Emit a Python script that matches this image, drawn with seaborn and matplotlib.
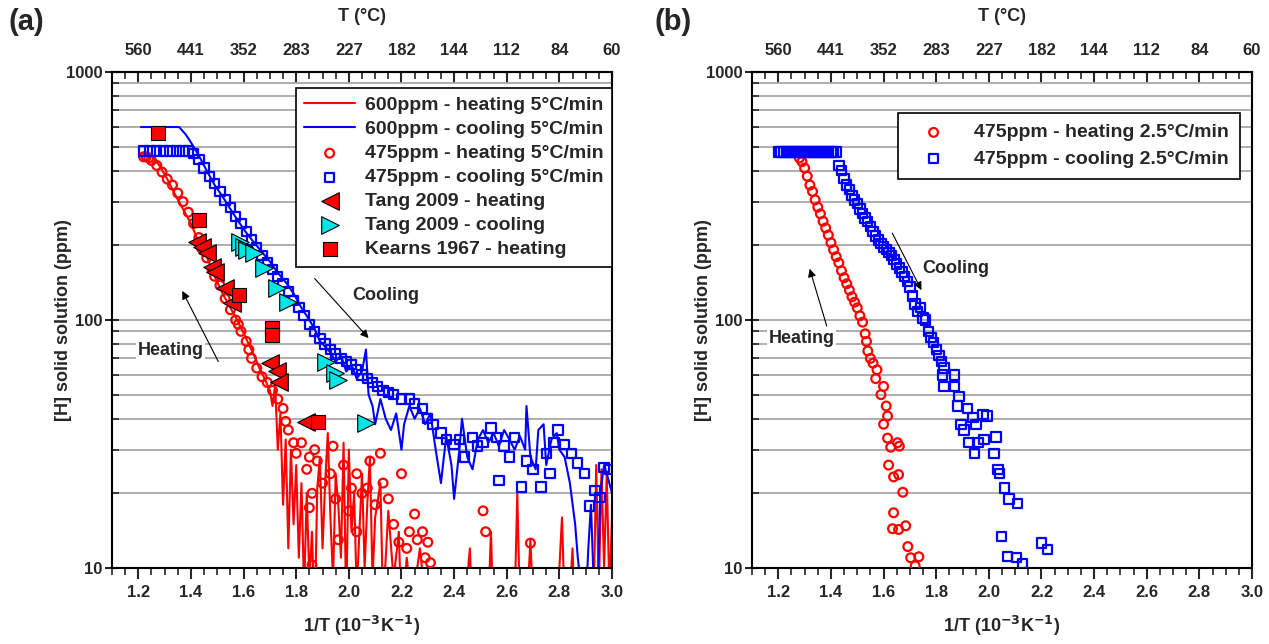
import numpy as np
import matplotlib
matplotlib.use("Agg")
import matplotlib.pyplot as plt
import matplotlib.ticker as mticker
import seaborn as sns

# ---------------- panel (a) data ----------------
# 600ppm - heating 5C/min (red line)
a_hline_x = [1.22, 1.25, 1.28, 1.31, 1.34, 1.37, 1.40, 1.43, 1.46, 1.49, 1.52, 1.55, 1.58, 1.61,
             1.64, 1.66, 1.68, 1.70, 1.71, 1.72, 1.73, 1.74, 1.75, 1.76, 1.77, 1.78, 1.79, 1.80,
             1.81, 1.82, 1.83, 1.84, 1.85, 1.86, 1.87, 1.88, 1.89, 1.90, 1.91, 1.92, 1.93, 1.94,
             1.95, 1.96, 1.97, 1.98, 1.99, 2.00, 2.01, 2.02, 2.03, 2.05, 2.06, 2.07, 2.08, 2.09,
             2.10, 2.12, 2.13, 2.15, 2.17, 2.19, 2.20, 2.22, 2.24, 2.27, 2.30, 2.35, 2.40, 2.44,
             2.46, 2.47, 2.53, 2.54, 2.55, 2.63, 2.64, 2.65, 2.68, 2.69, 2.70, 2.78, 2.80, 2.81,
             2.82, 2.84, 2.85, 2.86, 2.93, 2.94, 2.95, 2.96, 2.97, 2.98, 2.99, 3.00]
a_hline_y = [470, 460, 420, 370, 320, 280, 245, 205, 180, 150, 128, 112, 98, 84,
             72, 64, 58, 52, 45, 55, 30, 42, 18, 33, 12, 30, 15, 26,
             11, 22, 8, 20, 9, 14, 6, 21, 28, 12, 22, 35, 16, 9,
             24, 18, 11, 32, 7, 30, 14, 20, 8, 24, 10, 18, 28, 9,
             16, 22, 7, 17, 9, 14, 6, 11, 7, 12, 6, 8, 6, 7,
             12, 6, 7, 14, 6, 7, 20, 7, 8, 13, 7, 6, 10, 16,
             7, 8, 12, 6, 7, 26, 8, 25, 10, 24, 8, 16]

# 600ppm - cooling 5C/min (blue line)
a_cline_x = [1.21, 1.25, 1.30, 1.355, 1.38, 1.40, 1.43, 1.46, 1.49, 1.52, 1.55, 1.58, 1.61, 1.64,
             1.67, 1.70, 1.73, 1.76, 1.79, 1.82, 1.85, 1.87, 1.89, 1.91, 1.93, 1.95, 1.97, 1.99,
             2.01, 2.03, 2.05, 2.065, 2.075, 2.09, 2.10, 2.12, 2.14, 2.16, 2.18, 2.20, 2.21, 2.23,
             2.25, 2.27, 2.29, 2.31, 2.33, 2.35, 2.37, 2.39, 2.40, 2.42, 2.43, 2.45, 2.47, 2.49,
             2.51, 2.53, 2.55, 2.57, 2.59, 2.61, 2.63, 2.65, 2.67, 2.675, 2.69, 2.71, 2.72, 2.74,
             2.75, 2.77, 2.79, 2.80, 2.82, 2.84, 2.86, 2.87, 2.885, 2.90, 2.91, 2.92, 2.93, 2.945,
             2.955, 2.97, 2.985, 3.00]
a_cline_y = [600, 600, 600, 600, 560, 520, 460, 400, 350, 315, 280, 250, 225, 205,
             188, 172, 155, 142, 128, 112, 100, 92, 82, 78, 74, 68, 72, 62,
             66, 58, 62, 76, 50, 45, 38, 48, 40, 36, 42, 30, 38, 45,
             40, 44, 38, 42, 30, 22, 34, 26, 19, 30, 40, 28, 25, 33,
             36, 32, 35, 31, 36, 33, 30, 34, 30, 45, 28, 25, 36, 38,
             26, 33, 35, 30, 28, 22, 15, 11, 8, 7, 12, 18, 9, 7,
             20, 26, 23, 20]

# 475ppm - heating 5C/min (red circles)
a_hcirc_x = [1.22, 1.23, 1.24, 1.25, 1.27, 1.29, 1.31, 1.33, 1.35, 1.37, 1.39, 1.41, 1.43, 1.44,
             1.46, 1.48, 1.49, 1.51, 1.53, 1.55, 1.57, 1.58, 1.59, 1.61, 1.62, 1.63, 1.65, 1.67,
             1.69, 1.71, 1.73, 1.75, 1.76, 1.77, 1.79, 1.80, 1.82, 1.84, 1.85, 1.86, 1.87, 1.88,
             1.85, 1.90, 1.94, 1.93, 1.95, 1.96, 1.98, 2.00, 2.01, 2.03, 2.03, 2.05, 2.07, 2.08,
             2.10, 2.12, 2.13, 2.15, 2.17, 2.19, 2.20, 2.22, 2.23, 2.25, 2.26, 2.28, 2.29, 2.30,
             2.31, 2.51, 2.52, 2.69, 1.86]
a_hcirc_y = [455, 455, 450, 440, 420, 395, 370, 350, 325, 300, 272, 245, 215, 195,
             178, 160, 150, 138, 122, 110, 100, 96, 90, 82, 76, 70, 64, 59,
             56, 52, 48, 44, 39, 36, 32, 29, 32, 25, 28, 20, 30, 27,
             17.5, 22, 31, 24, 19, 13, 26, 17, 21, 24, 14, 20, 21, 27,
             18, 29, 22, 19, 15, 12.7, 24, 12, 14, 16.5, 13, 14, 11, 12.7,
             10.5, 17, 14, 12.6, 10.3]

# 475ppm - cooling 5C/min (blue squares)
a_csq_x = [1.22, 1.245, 1.27, 1.295, 1.32, 1.345, 1.37, 1.39, 1.41, 1.43, 1.45, 1.47, 1.49, 1.51,
           1.53, 1.55, 1.57, 1.59, 1.61, 1.63, 1.65, 1.67, 1.69, 1.71, 1.73, 1.75, 1.77, 1.79,
           1.81, 1.83, 1.85, 1.87, 1.89, 1.91, 1.93, 1.95, 1.97, 1.99, 2.01, 2.03, 2.05, 2.07,
           2.09, 2.11, 2.13, 2.15, 2.17, 2.20, 2.23, 2.25, 2.28, 2.30, 2.32, 2.35, 2.37, 2.40,
           2.42, 2.44, 2.47, 2.49, 2.51, 2.54, 2.56, 2.57, 2.59, 2.61, 2.63, 2.655, 2.675, 2.70,
           2.73, 2.75, 2.765, 2.78, 2.795, 2.82, 2.845, 2.87, 2.895, 2.915, 2.935, 2.955, 2.97, 2.99]
a_csq_y = [480, 480, 480, 480, 480, 480, 480, 480, 470, 445, 410, 380, 355, 330,
           305, 285, 262, 245, 228, 210, 196, 182, 170, 160, 150, 140, 130, 120,
           112, 104, 96, 90, 84, 80, 76, 73, 70, 68, 66, 63, 60, 58,
           56, 54, 52, 51, 50, 48, 48, 46, 44, 40, 38, 35, 33, 31.5,
           33, 28, 33.5, 31, 32, 36.7, 33.5, 22.6, 31, 28, 33.5, 21.2, 27, 25,
           21.2, 29, 24, 32, 36, 31.5, 29, 26.5, 24, 17.8, 20.5, 19.3, 25.5, 25]

# literature points
tang_h_x = [1.422, 1.441, 1.46, 1.479, 1.491, 1.529, 1.556, 1.701, 1.728, 1.736, 1.836]
tang_h_y = [207, 197, 186, 164, 156, 135, 117, 67, 62, 56, 38.8]
tang_c_x = [1.587, 1.602, 1.613, 1.64, 1.679, 1.728, 1.767, 1.912, 1.947, 1.958, 2.066]
tang_c_y = [207, 197, 191, 186, 162, 135, 118, 68, 61, 57.5, 38.5]
kearns_x = [1.276, 1.43, 1.583, 1.709, 1.709, 1.882]
kearns_y = [568, 253, 126, 93, 87, 38.8]

# ---------------- panel (b) data ----------------
b_hcirc_x = [1.28, 1.29, 1.30, 1.31, 1.32, 1.33, 1.34, 1.35, 1.36, 1.37, 1.38, 1.39, 1.40, 1.41,
             1.42, 1.43, 1.44, 1.45, 1.46, 1.47, 1.48, 1.49, 1.50, 1.51, 1.52, 1.53, 1.535, 1.54,
             1.55, 1.56, 1.575, 1.57, 1.60, 1.59, 1.61, 1.615, 1.60, 1.615, 1.627, 1.653, 1.66,
             1.619, 1.638, 1.657, 1.673, 1.638, 1.634, 1.657, 1.684, 1.692, 1.703, 1.734, 1.72]
b_hcirc_y = [450, 435, 410, 380, 350, 330, 305, 285, 268, 250, 235, 220, 205, 192,
             180, 170, 158, 148, 140, 132, 124, 118, 112, 104, 98, 88, 82, 75,
             70, 67, 63, 58, 54, 50, 45, 41, 38, 33.4, 30.7, 32, 31,
             26, 23.3, 23.8, 20.2, 16.7, 14.4, 14.3, 14.8, 12.2, 11, 11.1, 10.2]

b_csq_x = [1.20, 1.21, 1.22, 1.23, 1.24, 1.25, 1.26, 1.27, 1.28, 1.29, 1.30, 1.31, 1.32, 1.33,
           1.34, 1.35, 1.36, 1.37, 1.38, 1.39, 1.40, 1.41, 1.42,
           1.43, 1.44, 1.45, 1.46, 1.47, 1.48, 1.49, 1.50, 1.51, 1.52, 1.53, 1.54, 1.55, 1.56,
           1.57, 1.58, 1.59, 1.60, 1.61, 1.62, 1.63, 1.64, 1.65, 1.66, 1.67, 1.68, 1.69, 1.70,
           1.71, 1.72, 1.73, 1.74, 1.75, 1.76, 1.77, 1.78, 1.79, 1.80, 1.81, 1.82, 1.83, 1.825,
           1.83, 1.87, 1.87, 1.886, 1.882, 1.92, 1.94, 1.978, 1.894, 1.905, 1.951, 1.925, 1.959,
           1.982, 1.945, 1.993, 2.027, 2.02, 2.035, 2.04, 2.06, 2.077, 2.11, 2.047, 2.07, 2.104,
           2.127, 2.20, 2.222]
b_csq_y = [476, 476, 476, 476, 476, 476, 476, 476, 476, 476, 476, 476, 476, 476,
           476, 476, 476, 476, 476, 476, 476, 476, 476,
           420, 400, 372, 350, 335, 318, 305, 295, 280, 268, 258, 250, 238, 228,
           218, 210, 203, 197, 192, 187, 182, 175, 168, 162, 156, 150, 143, 136,
           125, 116, 108, 112, 102, 100, 90, 85, 81, 76, 72, 68, 64, 60,
           54, 60, 54, 49, 45, 44, 40.5, 41.5, 38, 36, 38, 32, 32,
           33, 29, 41, 33.7, 29, 25, 24, 21, 19, 18.2, 13.4, 11.1, 11,
           10.4, 12.6, 11.9]

temps_c = [560, 441, 352, 283, 227, 182, 144, 112, 84, 60]

RED = "#ff0000"
BLUE = "#0000ff"
CYAN = "#00e5e5"

sns.set_style("ticks")
plt.rcParams["font.family"] = ["Liberation Sans", "DejaVu Sans"]
plt.rcParams["font.weight"] = "bold"
plt.rcParams["axes.labelweight"] = "bold"
plt.rcParams["mathtext.default"] = "bf"

fig = plt.figure(figsize=(12.69, 6.44), dpi=100)
ax_a = fig.add_axes([112 / 1269, 76 / 644, 500 / 1269, 496 / 644])
ax_b = fig.add_axes([752 / 1269, 76 / 644, 500 / 1269, 496 / 644])


def style_axis(ax):
    ax.set_yscale("log")
    ax.set_xlim(1.1, 3.0)
    ax.set_ylim(10, 1000)
    ax.xaxis.set_major_locator(mticker.FixedLocator(np.arange(1.2, 3.01, 0.2)))
    ax.xaxis.set_major_formatter(mticker.FormatStrFormatter("%.1f"))
    ax.xaxis.set_minor_locator(mticker.MultipleLocator(0.05))
    ax.yaxis.set_major_locator(mticker.FixedLocator([10, 100, 1000]))
    ax.yaxis.set_major_formatter(mticker.FixedFormatter(["10", "100", "1000"]))
    ax.yaxis.set_minor_locator(mticker.LogLocator(base=10, subs=np.arange(2, 10)))
    ax.yaxis.set_minor_formatter(mticker.NullFormatter())
    ax.grid(True, which="both", axis="y", color="#a8a8a8", lw=1.3)
    ax.set_axisbelow(True)
    for s in ax.spines.values():
        s.set_linewidth(1.5)
        s.set_color("black")
    ax.tick_params(axis="x", which="major", direction="out", length=8, width=1.5, labelsize=12, pad=4)
    ax.tick_params(axis="x", which="minor", direction="out", length=5, width=1.2)
    ax.tick_params(axis="y", which="major", direction="inout", length=10, width=1.5, labelsize=12, pad=2)
    ax.tick_params(axis="y", which="minor", direction="in", length=5, width=1.2)
    ax.set_xlabel(r"1/T (10$^{-3}$K$^{-1}$)", fontsize=13, labelpad=10)
    ax.set_ylabel("[H] solid solution (ppm)", fontsize=13)
    ax.yaxis.set_label_coords(-0.08, 0.5)

    top = ax.secondary_xaxis("top")
    top.set_xticks([round(1000.0 / (t + 273.15), 1) for t in temps_c])
    top.set_xticklabels([str(t) for t in temps_c])
    top.xaxis.set_minor_locator(mticker.MultipleLocator(0.05))
    top.tick_params(axis="x", which="major", direction="in", length=8, width=1.5, labelsize=12, pad=10)
    top.tick_params(axis="x", which="minor", direction="in", length=5, width=1.2)
    top.spines["top"].set_linewidth(1.5)
    top.set_xlabel("T (°C)", fontsize=13, labelpad=16)


style_axis(ax_a)
style_axis(ax_b)

# panel (a)
sns.lineplot(x=a_hline_x, y=a_hline_y, sort=False, estimator=None, color=RED, lw=1.5,
             ax=ax_a, label="600ppm - heating 5°C/min")
sns.lineplot(x=a_cline_x, y=a_cline_y, sort=False, estimator=None, color=BLUE, lw=1.5,
             ax=ax_a, label="600ppm - cooling 5°C/min")
sns.scatterplot(x=a_hcirc_x, y=a_hcirc_y, marker="o", s=40, facecolor="none", edgecolor=RED,
                linewidth=1.6, ax=ax_a, label="475ppm - heating 5°C/min", zorder=3)
sns.scatterplot(x=a_csq_x, y=a_csq_y, marker="s", s=45, facecolor="none", edgecolor=BLUE,
                linewidth=1.6, ax=ax_a, label="475ppm - cooling 5°C/min", zorder=3)
sns.scatterplot(x=tang_h_x, y=tang_h_y, marker="<", s=160, color=RED, edgecolor="black",
                linewidth=0.8, ax=ax_a, label="Tang 2009 - heating", zorder=4)
sns.scatterplot(x=tang_c_x, y=tang_c_y, marker=">", s=160, color=CYAN, edgecolor="black",
                linewidth=0.8, ax=ax_a, label="Tang 2009 - cooling", zorder=4)
sns.scatterplot(x=kearns_x, y=kearns_y, marker="s", s=110, color=RED, edgecolor="black",
                linewidth=0.8, ax=ax_a, label="Kearns 1967 - heating", zorder=4)

leg_a = ax_a.legend(loc="upper right", bbox_to_anchor=(1.0, 0.968), borderaxespad=0,
                    fontsize=14, frameon=True, fancybox=False, framealpha=1,
                    edgecolor="black", handlelength=2.6, labelspacing=0.33,
                    borderpad=0.45, handletextpad=0.5)
leg_a.get_frame().set_linewidth(1.2)

arrow_kw = dict(arrowstyle="-|>", color="black", lw=0.8, mutation_scale=12, shrinkA=0, shrinkB=0)
ax_a.annotate("", xy=(1.367, 131), xytext=(1.504, 68), arrowprops=arrow_kw)
ax_a.text(1.322, 75, "Heating", fontsize=13, ha="center", va="center",
          bbox=dict(facecolor="white", edgecolor="none", pad=1))
ax_a.annotate("", xy=(2.075, 84.5), xytext=(1.87, 147), arrowprops=arrow_kw)
ax_a.text(2.14, 125, "Cooling", fontsize=13, ha="center", va="center",
          bbox=dict(facecolor="white", edgecolor="none", pad=1))

# panel (b)
sns.scatterplot(x=b_hcirc_x, y=b_hcirc_y, marker="o", s=40, facecolor="none", edgecolor=RED,
                linewidth=1.6, ax=ax_b, label="475ppm - heating 2.5°C/min", zorder=3)
sns.scatterplot(x=b_csq_x, y=b_csq_y, marker="s", s=45, facecolor="none", edgecolor=BLUE,
                linewidth=1.6, ax=ax_b, label="475ppm - cooling 2.5°C/min", zorder=3)
leg_b = ax_b.legend(loc="upper right", bbox_to_anchor=(0.976, 0.917), borderaxespad=0,
                    fontsize=14, frameon=True, fancybox=False, framealpha=1,
                    edgecolor="black", handlelength=2.6, labelspacing=0.45,
                    borderpad=0.55, handletextpad=0.8)
leg_b.get_frame().set_linewidth(1.2)

ax_b.annotate("", xy=(1.319, 161), xytext=(1.384, 94.6), arrowprops=arrow_kw)
ax_b.text(1.288, 84.5, "Heating", fontsize=13, ha="center", va="center",
          bbox=dict(facecolor="white", edgecolor="none", pad=1))
ax_b.annotate("", xy=(1.744, 132), xytext=(1.633, 224), arrowprops=arrow_kw)
ax_b.text(1.874, 161, "Cooling", fontsize=13, ha="center", va="center",
          bbox=dict(facecolor="white", edgecolor="none", pad=1))

fig.text(8 / 1269, 1 - 22 / 644, "(a)", fontsize=21, ha="left", va="center")
fig.text(655 / 1269, 1 - 22 / 644, "(b)", fontsize=21, ha="left", va="center")

fig.savefig("out.png", dpi=100)
